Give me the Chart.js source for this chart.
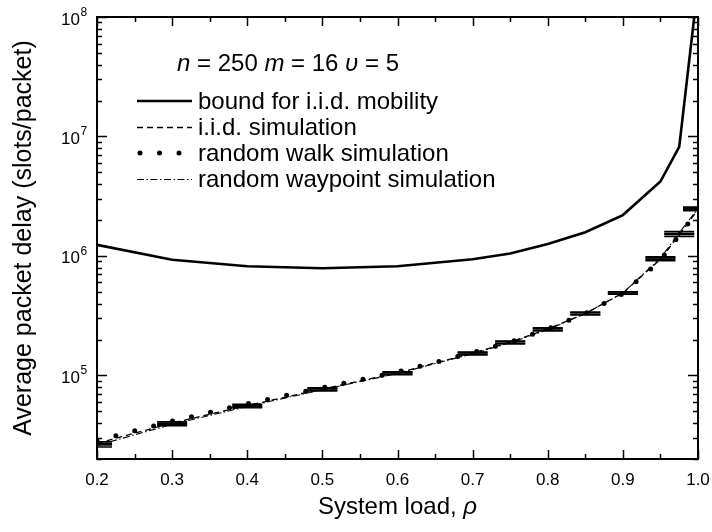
<!DOCTYPE html>
<html><head><meta charset="utf-8">
<script src="https://cdn.jsdelivr.net/npm/chart.js@4/dist/chart.umd.min.js"></script>
<style>html,body{margin:0;padding:0;background:#fff}</style>
</head><body>
<canvas id="c" width="712" height="532" style="display:block;width:712px;height:532px"></canvas>
<script>
// ---- data ----
const boundLoad = [0.2, 0.3, 0.4, 0.5, 0.6, 0.7, 0.75, 0.8, 0.85, 0.9, 0.95, 0.975, 0.995];
const boundDelay = [1.24e6, 9.3e5, 8.2e5, 7.9e5, 8.2e5, 9.4e5, 1.05e6, 1.26e6, 1.58e6, 2.2e6, 4.2e6, 8.2e6, 1.0e8];

const simLoad = [0.2, 0.3, 0.4, 0.5, 0.6, 0.7, 0.75, 0.8, 0.85, 0.9, 0.95, 0.975, 1.0];
const iidSim = [2.7e4, 4.0e4, 5.6e4, 7.7e4, 1.05e5, 1.54e5, 1.9e5, 2.45e5, 3.3e5, 4.9e5, 9.4e5, 1.5e6, 2.45e6];
const iidErr = [8e2, 1.0e3, 1.3e3, 1.6e3, 2.2e3, 3.2e3, 4.0e3, 5.5e3, 7.0e3, 1.0e4, 2.5e4, 4.0e4, 6.0e4];
const walkSim = [2.85e4, 4.15e4, 5.8e4, 7.9e4, 1.07e5, 1.55e5, 1.9e5, 2.45e5, 3.3e5, 4.85e5, 9.2e5, 1.5e6, 2.4e6];
const waypointSim = [2.6e4, 3.9e4, 5.5e4, 7.6e4, 1.04e5, 1.52e5, 1.88e5, 2.42e5, 3.3e5, 4.9e5, 9.6e5, 1.56e6, 2.5e6];
const waypointErr = [8e2, 1.0e3, 1.3e3, 1.6e3, 2.2e3, 3.2e3, 4.0e3, 5.5e3, 7.0e3, 1.0e4, 2.5e4, 4.0e4, 6.0e4];

const seriesNames = ['bound for i.i.d. mobility', 'i.i.d. simulation', 'random walk simulation', 'random waypoint simulation'];
const xTickValues = [0.2, 0.3, 0.4, 0.5, 0.6, 0.7, 0.8, 0.9, 1.0];
const yTickValues = [1e5, 1e6, 1e7, 1e8];

const FONT = "'Liberation Sans', Arial, sans-serif";
const toPts = (xs, ys) => xs.map((x, i) => ({x: x, y: ys[i]}));

const styles = [
  {borderColor:'#000', borderWidth:2.6, borderDash:[], cap:'butt'},
  {borderColor:'#000', borderWidth:1.3, borderDash:[6,4], cap:'butt'},
  {borderColor:'#000', borderWidth:5, borderDash:[0,19.5], cap:'round'},
  {borderColor:'#000', borderWidth:1.1, borderDash:[7,2.5,1.5,2.5], cap:'butt'}
];

const datasets = [
  toPts(boundLoad, boundDelay),
  toPts(simLoad, iidSim),
  toPts(simLoad, walkSim),
  toPts(simLoad, waypointSim)
].map((d, i) => ({
  label: seriesNames[i], data: d, borderColor: styles[i].borderColor,
  borderWidth: styles[i].borderWidth, borderDash: styles[i].borderDash,
  borderCapStyle: styles[i].cap, pointRadius: 0, tension: 0, fill: false
}));

const errorBars = {
  id: 'errorBars',
  afterDatasetsDraw(chart) {
    const {ctx, scales: {x, y}} = chart;
    const a = chart.chartArea;
    ctx.save();
    ctx.beginPath();
    ctx.rect(a.left, a.top, a.right - a.left, a.bottom - a.top);
    ctx.clip();
    ctx.strokeStyle = '#000';
    ctx.lineWidth = 1.7;
    const sets = [[iidSim, iidErr], [waypointSim, waypointErr]];
    sets.forEach(([vals, errs]) => {
      simLoad.forEach((lx, i) => {
        const px = x.getPixelForValue(lx);
        const lo = y.getPixelForValue(vals[i] - errs[i]);
        const hi = y.getPixelForValue(vals[i] + errs[i]);
        ctx.beginPath();
        ctx.moveTo(px, lo); ctx.lineTo(px, hi);
        ctx.moveTo(px - 15, lo); ctx.lineTo(px + 15, lo);
        ctx.moveTo(px - 15, hi); ctx.lineTo(px + 15, hi);
        ctx.stroke();
      });
    });
    ctx.restore();
  }
};

function drawRich(ctx, parts, x, yb, size) {
  let cx = x;
  parts.forEach(([t, it]) => {
    ctx.font = (it ? 'italic ' : '') + size + 'px ' + FONT;
    ctx.fillText(t, cx, yb);
    cx += ctx.measureText(t).width;
  });
  return cx;
}
function richWidth(ctx, parts, size) {
  let w = 0;
  parts.forEach(([t, it]) => { ctx.font = (it ? 'italic ' : '') + size + 'px ' + FONT; w += ctx.measureText(t).width; });
  return w;
}

const decor = {
  id: 'decor',
  afterDraw(chart) {
    const {ctx, chartArea: a, scales: {x, y}} = chart;
    ctx.save();
    ctx.strokeStyle = '#000';
    ctx.fillStyle = '#000';
    // frame
    ctx.lineWidth = 2;
    ctx.setLineDash([]);
    ctx.strokeRect(a.left, a.top, a.right - a.left, a.bottom - a.top);
    // x ticks (inward, top and bottom)
    ctx.lineWidth = 1.5;
    ctx.beginPath();
    for (let k = 0; k <= 16; k++) {
      const v = 0.2 + k * 0.05;
      const px = Math.round(x.getPixelForValue(v)) + 0.5;
      const len = (k % 2 === 0) ? 9 : 5;
      ctx.moveTo(px, a.bottom); ctx.lineTo(px, a.bottom - len);
      ctx.moveTo(px, a.top); ctx.lineTo(px, a.top + len);
    }
    // y ticks (inward, left and right)
    for (let e = 4; e <= 8; e++) {
      for (let m = 1; m <= 9; m++) {
        const v = m * Math.pow(10, e);
        if (v < 2e4 || v > 1e8) continue;
        const py = Math.round(y.getPixelForValue(v)) + 0.5;
        const len = (m === 1) ? 10 : 5;
        ctx.moveTo(a.left, py); ctx.lineTo(a.left + len, py);
        ctx.moveTo(a.right, py); ctx.lineTo(a.right - len, py);
      }
    }
    ctx.stroke();

    // y tick labels: 10 with superscript exponent
    yTickValues.forEach(v => {
      const py = y.getPixelForValue(v);
      const e = String(Math.round(Math.log10(v)));
      ctx.textAlign = 'right';
      ctx.textBaseline = 'alphabetic';
      ctx.font = '17px ' + FONT;
      ctx.fillText('10', 80, py + 7.5);
      ctx.textAlign = 'left';
      ctx.font = '12px ' + FONT;
      ctx.fillText(e, 80.5, py - 1);
    });

    // axis titles
    ctx.textBaseline = 'alphabetic';
    const xt = [['System load, ', false], ['\u03C1', true]];
    const xw = richWidth(ctx, xt, 24);
    ctx.textAlign = 'left';
    drawRich(ctx, xt, (a.left + a.right) / 2 - xw / 2, 514, 24);

    ctx.save();
    ctx.translate(31, (a.top + a.bottom) / 2);
    ctx.rotate(-Math.PI / 2);
    ctx.textAlign = 'center';
    ctx.font = '25px ' + FONT;
    ctx.fillText('Average packet delay (slots/packet)', 0, 0);
    ctx.restore();

    // annotation
    ctx.textAlign = 'left';
    drawRich(ctx, [['n', true], [' = 250 ', false], ['m', true], [' = 16 ', false], ['\u03C5', true], [' = 5', false]], 177, 71, 24);

    // legend
    const rows = [101, 127.5, 153, 179.5];
    rows.forEach((ry, i) => {
      const s = styles[i];
      ctx.beginPath();
      ctx.lineWidth = s.borderWidth;
      ctx.lineCap = s.cap;
      ctx.setLineDash(s.borderDash);
      if (i === 2) { ctx.moveTo(140, ry); ctx.lineTo(180, ry); }
      else { ctx.moveTo(137, ry); ctx.lineTo(192, ry); }
      ctx.stroke();
      ctx.setLineDash([]);
      ctx.lineCap = 'butt';
      ctx.font = '24px ' + FONT;
      ctx.textBaseline = 'middle';
      ctx.fillText(seriesNames[i], 198, ry + 1);
    });
    ctx.restore();
  }
};

new Chart(document.getElementById('c'), {
  type: 'line',
  data: {datasets: datasets},
  options: {
    responsive: false, animation: false, devicePixelRatio: 1,
    layout: {padding: {top: 17, right: 14, left: 0, bottom: 0}},
    plugins: {legend: {display: false}, tooltip: {enabled: false}},
    scales: {
      x: {
        type: 'linear', min: 0.2, max: 1.0,
        afterFit: s => { s.height = 73; s.paddingLeft = 0; s.paddingRight = 0; },
        afterBuildTicks: s => { s.ticks = xTickValues.map(v => ({value: v})); },
        grid: {display: false, drawTicks: false}, border: {display: false},
        ticks: {
          autoSkip: false, maxRotation: 0, padding: 11, color: '#000',
          font: {family: FONT, size: 17},
          callback: v => Number(v).toFixed(1)
        }
      },
      y: {
        type: 'logarithmic', min: 2e4, max: 1e8,
        afterFit: s => { s.width = 97; s.paddingTop = 0; s.paddingBottom = 0; },
        afterBuildTicks: s => { s.ticks = yTickValues.map(v => ({value: v})); },
        grid: {display: false, drawTicks: false}, border: {display: false},
        ticks: {display: false}
      }
    }
  },
  plugins: [errorBars, decor]
});
</script>
</body></html>
